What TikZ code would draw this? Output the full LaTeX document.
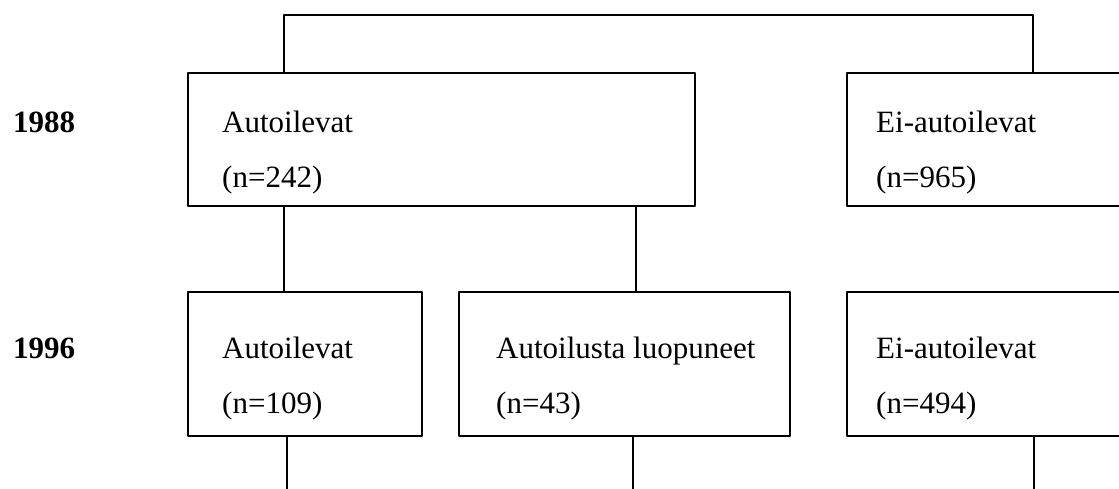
\documentclass[tikz,border=0pt]{standalone}
\usepackage{fontspec}
\setmainfont{Liberation Serif}
\begin{document}
\begin{tikzpicture}[x=0.5pt, y=-0.5pt, line cap=round, line join=round, line width=1.2pt,
		font=\fontsize{15.5}{18}\selectfont,
		frame/.style={draw, rectangle, inner sep=0pt, anchor=north west},
		lbl/.style={inner sep=0pt, anchor=base west}]
			% 1. Kuvan rajat
			\clip (0,0) rectangle (1119,488);
			
			% 2. Vuosiluvut
			\node[lbl, font=\fontsize{15.5}{18}\selectfont\bfseries] (y88) at (12,132) {1988};
			\node[lbl, font=\fontsize{15.5}{18}\selectfont\bfseries] (y96) at (12,358) {1996};
			
			% 3. Laatikot (oikeat reunat jatkuvat kuvan ulkopuolelle)
			\node[frame, minimum width=253.5pt, minimum height=66.5pt] (a88) at (187,72) {};
			\node[frame, minimum width=150pt, minimum height=66.5pt] (e88) at (846,72) {};
			\node[frame, minimum width=117pt, minimum height=72pt] (a96) at (187,291) {};
			\node[frame, minimum width=165.5pt, minimum height=72pt] (l96) at (458,291) {};
			\node[frame, minimum width=150pt, minimum height=72pt] (e96) at (846,291) {};
			
			% 4. Tekstit laatikoissa
			\foreach \nm/\px/\py/\ta/\tb in {a88/221/132/Autoilevat/(n=242), e88/875/132/Ei-autoilevat/(n=965),
				a96/221/358/Autoilevat/(n=109), l96/495/358/Autoilusta luopuneet/(n=43), e96/875/358/Ei-autoilevat/(n=494)} {
				\node[lbl] (\nm-t) at (\px,\py) {\ta};
				\node[lbl] (\nm-n) at (\px,\py+55) {\tb};
			}
			
			% 5. Yhdysviivat
			\coordinate (tl) at (284,15);
			\coordinate (tr) at (1033,15);
			\coordinate (cl) at (636,0);
			\coordinate (ba) at (287,492);
			\coordinate (bl) at (633,492);
			\coordinate (be) at (1034,492);
			\draw (a88.north -| tl) -- (tl) -- (tr) -- (e88.north -| tr);
			\draw (a88.south -| tl) -- (a96.north -| tl);
			\draw (a88.south -| cl) -- (l96.north -| cl);
			\draw (a96.south -| ba) -- (ba);
			\draw (l96.south -| bl) -- (bl);
			\draw (e96.south -| be) -- (be);
	\end{tikzpicture}
\end{document}
